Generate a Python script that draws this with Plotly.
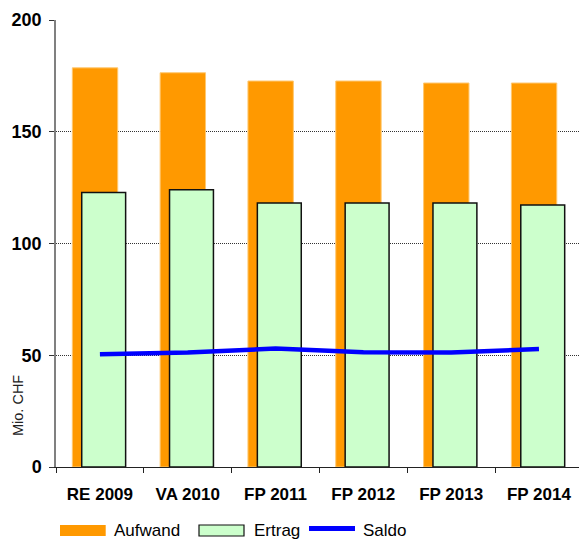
import plotly.graph_objects as go

categories = ["RE 2009", "VA 2010", "FP 2011", "FP 2012", "FP 2013", "FP 2014"]
aufwand = [178.6, 176.4, 172.7, 172.7, 171.8, 171.8]
ertrag = [122.8, 124.0, 118.1, 118.1, 118.1, 117.2]
saldo = [50.5, 51.2, 53.0, 51.3, 51.2, 52.8]
y_ticks = [0, 50, 100, 150, 200]

W, H = 579, 540
L, R, T, B = 56, 0, 20, 73
PW, PH = W - L - R, H - T - B

def px(x):
    return (x - L) / PW

def py(y):
    return (H - B - y) / PH

FONT = "Arial, Liberation Sans, sans-serif"
ORANGE = "#FF9900"
GREEN = "#CCFFCC"
BLUE = "#0000FF"

fig = go.Figure()
fig.add_trace(go.Bar(
    x=categories, y=aufwand, name="Aufwand",
    marker=dict(color=ORANGE, line=dict(color="#FFC870", width=1)),
    width=0.517, offset=-0.314, showlegend=False,
))
fig.add_trace(go.Bar(
    x=categories, y=ertrag, name="Ertrag",
    marker=dict(color=GREEN, line=dict(color="#111111", width=1.5)),
    width=0.50, offset=-0.207, showlegend=False,
))
fig.add_trace(go.Scatter(
    x=categories, y=saldo, name="Saldo", mode="lines",
    line=dict(color=BLUE, width=4.5), showlegend=False,
))

fig.update_layout(
    width=W, height=H,
    margin=dict(l=L, r=R, t=T, b=B),
    paper_bgcolor="white", plot_bgcolor="white",
    barmode="overlay",
    font=dict(family=FONT, color="black"),
)
fig.update_xaxes(
    type="category", range=[-0.5, 5.456],
    showline=True, linecolor="#222222", linewidth=1,
    ticks="outside", tickson="boundaries", ticklen=5, tickcolor="#222222",
    tickfont=dict(size=17, weight="bold", family=FONT, color="black"),
    ticklabelstandoff=12,
    showgrid=False, zeroline=False,
)
fig.update_yaxes(
    range=[0, 200], tickvals=y_ticks,
    showline=True, linecolor="#808080", linewidth=1.5,
    ticks="outside", ticklen=5, tickcolor="#333333",
    tickfont=dict(size=18, weight="bold", family=FONT, color="black"),
    ticklabelstandoff=4,
    showgrid=True, gridcolor="#333333", griddash="1px,1px", gridwidth=1,
    zeroline=False,
)

# Y-axis title
fig.add_annotation(
    x=px(17.5), y=py(405.5), xref="paper", yref="paper",
    text="Mio. CHF", textangle=-90, showarrow=False,
    font=dict(size=14.5, family=FONT, color="#222222"),
    xanchor="center", yanchor="middle",
)

# Manual legend
sw_y0, sw_y1 = py(536), py(525)
fig.add_shape(type="rect", xref="paper", yref="paper",
              x0=px(60), x1=px(105.7), y0=sw_y0, y1=sw_y1,
              fillcolor=ORANGE, line=dict(width=0))
fig.add_shape(type="rect", xref="paper", yref="paper",
              x0=px(199), x1=px(244), y0=sw_y0, y1=sw_y1,
              fillcolor=GREEN, line=dict(color="#111111", width=1.2))
fig.add_shape(type="line", xref="paper", yref="paper",
              x0=px(309), x1=px(355), y0=py(528.5), y1=py(528.5),
              line=dict(color=BLUE, width=5))
for label, xl in [("Aufwand", 111.7), ("Ertrag", 251.7), ("Saldo", 360.7)]:
    fig.add_annotation(
        x=px(xl), y=py(530.5), xref="paper", yref="paper",
        text=label, showarrow=False, xanchor="left", yanchor="middle",
        font=dict(size=17, family=FONT, color="black"),
    )

fig.write_html(
    "out.html",
    config={"displayModeBar": False},
    post_script="document.body.style.margin='0';document.body.style.overflow='hidden';",
)
